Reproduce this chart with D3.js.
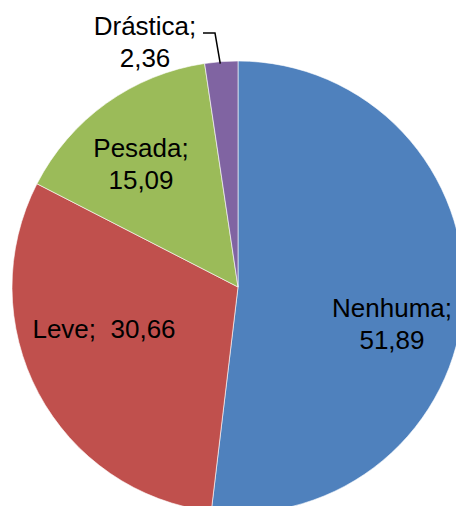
<!DOCTYPE html>
<html>
<head>
<meta charset="utf-8">
<script src="https://cdn.jsdelivr.net/npm/d3@7"></script>
<style>
  html, body { margin: 0; padding: 0; background: #fff; }
  svg { display: block; }
  text { font-family: "Liberation Sans", Arial, sans-serif; font-size: 26px; fill: #000; }
</style>
</head>
<body>
<svg id="chart" width="456" height="506"></svg>
<script>
// Categorias e percentuais
const categories = ["Nenhuma", "Leve", "Pesada", "Drástica"];
const values = [51.89, 30.66, 15.09, 2.36];
const colors = ["#4F81BD", "#C0504D", "#9BBB59", "#8064A2"];

const W = 456, H = 506;
const cx = 238, cy = 287, R = 226;

const svg = d3.select("#chart");
const g = svg.append("g").attr("transform", `translate(${cx},${cy})`);

const pie = d3.pie().sort(null).value(d => d.value);
const arcs = pie(categories.map((c, i) => ({ name: c, value: values[i], color: colors[i] })));
const arc = d3.arc().innerRadius(0).outerRadius(R);

g.selectAll("path.slice")
  .data(arcs)
  .join("path")
  .attr("class", "slice")
  .attr("d", arc)
  .attr("fill", d => d.data.color)
  .attr("stroke", "#fff")
  .attr("stroke-width", 0.6);

const fmt = v => v.toFixed(2).replace(".", ",");

// Label placement (relative to pie centre): lines of text and anchor point
const labelLayout = [
  { dx: 154, dy: 30, lines: d => [d.data.name + ";", fmt(d.data.value)] },
  { dx: -134, dy: 51, lines: d => [d.data.name + ";  " + fmt(d.data.value)] },
  { dx: -97, dy: -130, lines: d => [d.data.name + ";", fmt(d.data.value)] },
  { dx: -93, dy: -252, lines: d => [d.data.name + ";", fmt(d.data.value)] }
];

const lineH = 31.5;
arcs.forEach((d, i) => {
  const L = labelLayout[i];
  const lines = L.lines(d);
  const t = g.append("text")
    .attr("text-anchor", "middle")
    .attr("xml:space", "preserve")
    .style("white-space", "pre");
  lines.forEach((s, k) => {
    t.append("tspan")
      .attr("x", L.dx)
      .attr("y", L.dy + k * lineH)
      .text(s);
  });
});

// Leader line for the small slice
const small = arcs[3];
const edge = d3.arc().innerRadius(R).outerRadius(R).centroid(small);
const leader = [[-35, -254], [-23, -254], [edge[0] - 1, edge[1] + 2]];
g.append("path")
  .attr("d", d3.line()(leader))
  .attr("fill", "none")
  .attr("stroke", "#000")
  .attr("stroke-width", 1.5);
</script>
</body>
</html>
